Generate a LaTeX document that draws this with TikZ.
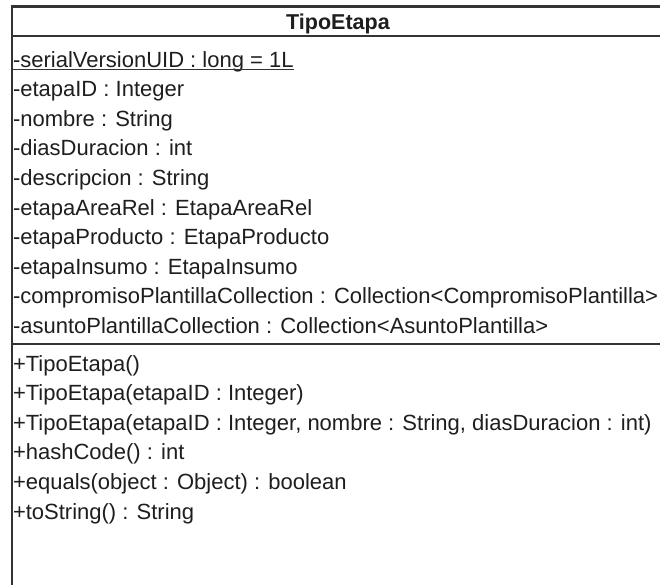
\documentclass[tikz,border=0pt]{standalone}
\usepackage{fontspec}
\setmainfont{Liberation Sans}
\definecolor{txt}{HTML}{1E1E1E}
\definecolor{edge}{HTML}{333333}
\begin{document}
\begin{tikzpicture}[x=1pt,y=-1pt,
  every node/.style={inner sep=0pt, outer sep=0pt, text=txt, font=\fontsize{22}{26}\selectfont},
  member/.style={anchor=base west},
  title/.style={anchor=base, font=\fontsize{21.5}{26}\selectfont\bfseries},
  border/.style={draw=edge, line width=2.2pt},
  divider/.style={draw=edge, line width=1.6pt}]
\useasboundingbox (0,0) rectangle (660,584);
\clip (0,0) rectangle (660,584);
\fill[white] (0,0) rectangle (660,584);
% class box (right and bottom edges lie outside the picture)
\coordinate (tl) at (12,6.5);
\coordinate (br) at (668,600);
\draw[border] (tl) rectangle (br);
\coordinate (h1) at (12,36);
\coordinate (h2) at (668,36);
\draw[border] (h1) -- (h2);
\coordinate (d1) at (12,344);
\coordinate (d2) at (668,344);
\draw[divider] (d1) -- (d2);
% title
\node[title] (name) at (338,29) {TipoEtapa};
% attributes
\node[member] (a1) at (13,67) {-serialVersionUID : long = 1L};
\draw[edge, line width=1.3pt] ([yshift=-2.5pt]a1.base west) -- ([yshift=-2.5pt]a1.base east);
\node[member] (a2) at (13,96.6) {-etapaID : Integer};
\node[member] (a3) at (13,126.2) {-nombre : String};
\node[member] (a4) at (13,155.8) {-diasDuracion : int};
\node[member] (a5) at (13,185.4) {-descripcion : String};
\node[member] (a6) at (13,215) {-etapaAreaRel : EtapaAreaRel};
\node[member] (a7) at (13,244.6) {-etapaProducto : EtapaProducto};
\node[member] (a8) at (13,274.2) {-etapaInsumo : EtapaInsumo};
\node[member] (a9) at (13,303.8) {-compromisoPlantillaCollection : Collection<CompromisoPlantilla>};
\node[member] (a10) at (13,333.4) {-asuntoPlantillaCollection : Collection<AsuntoPlantilla>};
% operations
\node[member] (m1) at (13,371) {+TipoEtapa()};
\node[member] (m2) at (13,400.6) {+TipoEtapa(etapaID : Integer)};
\node[member] (m3) at (13,430.2) {+TipoEtapa(etapaID : Integer, nombre : String, diasDuracion : int)};
\node[member] (m4) at (13,459.8) {+hashCode() : int};
\node[member] (m5) at (13,489.4) {+equals(object : Object) : boolean};
\node[member] (m6) at (13,519) {+toString() : String};
\end{tikzpicture}
\end{document}
